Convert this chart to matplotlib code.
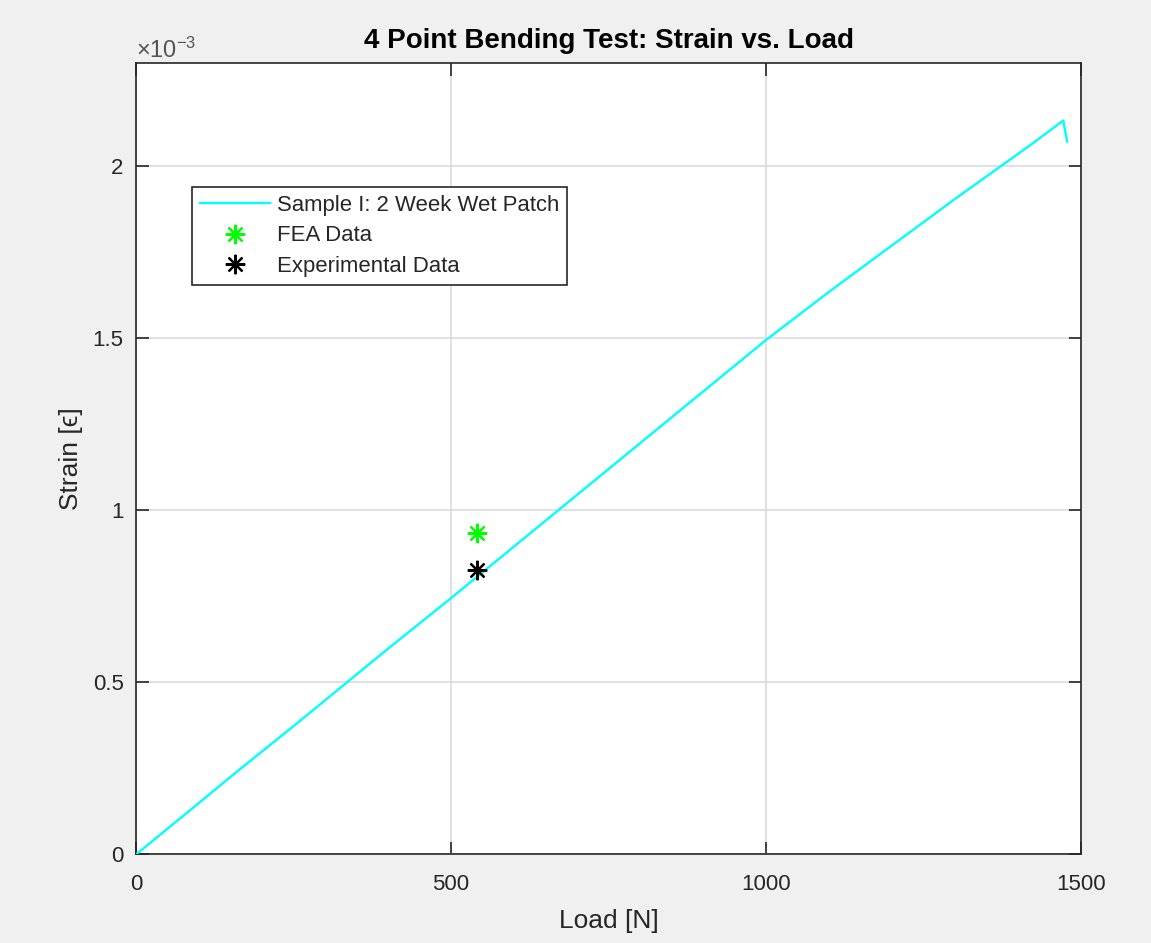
import numpy as np
import matplotlib
matplotlib.use('Agg')
import matplotlib.pyplot as plt
from matplotlib.ticker import FuncFormatter

plt.rcParams['font.family'] = ['Liberation Sans', 'DejaVu Sans']
plt.rcParams['mathtext.fontset'] = 'custom'
plt.rcParams['mathtext.rm'] = 'Liberation Sans'

# load-strain record for sample I (strain in units of 1e-3)
load = [0, 100, 165, 250, 324, 400, 500, 600, 700, 800, 900, 1000,
        1100, 1200, 1300, 1371, 1420, 1472, 1474, 1478]
strain = [0, 0.15, 0.248, 0.373, 0.484, 0.598, 0.745, 0.895, 1.045, 1.195, 1.345, 1.495,
          1.635, 1.770, 1.905, 1.998, 2.062, 2.133, 2.11, 2.072]

fea_load = [541]
fea_strain = [0.933]
exp_load = [541]
exp_strain = [0.826]

dark = '#262626'

fig = plt.figure(figsize=(11.51, 9.43), dpi=100, facecolor='#f0f0f0')
ax = fig.add_axes([0.1182, 0.0939, 0.8210, 0.8393])
ax.set_facecolor('white')

ax.plot(np.array(load), np.array(strain) * 1e-3, color='#00ffff', lw=1.7,
        label='Sample I: 2 Week Wet Patch', zorder=3)
ax.plot(np.array(fea_load), np.array(fea_strain) * 1e-3, ls='none', marker=(8, 2, 0),
        ms=14, mew=1.6, color='#00ff00', label='FEA Data', zorder=4)
ax.plot(np.array(exp_load), np.array(exp_strain) * 1e-3, ls='none', marker=(8, 2, 0),
        ms=14, mew=1.6, color='black', label='Experimental Data', zorder=4)

ax.set_xlim(0, 1500)
ax.set_ylim(0, 2.3e-3)
ax.set_xticks([0, 500, 1000, 1500])
ax.set_yticks([0, 0.5e-3, 1e-3, 1.5e-3, 2e-3])
ax.yaxis.set_major_formatter(FuncFormatter(lambda v, p: '%g' % round(v * 1e3, 3)))

ax.grid(True, color='#dcdcdc', lw=1.2)
ax.set_axisbelow(True)
for s in ax.spines.values():
    s.set_color(dark)
    s.set_linewidth(1.2)
ax.tick_params(direction='in', length=9, width=1.2, color=dark, labelcolor=dark,
               labelsize=16, top=True, right=True)
ax.tick_params(axis='x', pad=14)
ax.tick_params(axis='y', pad=9)

ax.text(0.0, 1.0, r'$\times\mathregular{10^{-3}}$', transform=ax.transAxes,
        fontsize=17, color='#555555', ha='left', va='bottom')

ax.set_title('4 Point Bending Test: Strain vs. Load', fontsize=20, fontweight='bold', pad=11)
ax.set_xlabel('Load [N]', fontsize=19, color=dark, labelpad=10)
ax.set_ylabel('Strain [ϵ]', fontsize=19, color=dark, labelpad=7)

leg = ax.legend(loc='upper left', bbox_to_anchor=(0.059, 0.843), borderaxespad=0,
                fancybox=False, framealpha=1, edgecolor=dark, fontsize=15.9,
                handlelength=3.2, labelspacing=0.42, borderpad=0.36, handletextpad=0.28)
leg.get_frame().set_linewidth(1.2)
for t in leg.get_texts():
    t.set_color(dark)

fig.savefig('out.png', dpi=100, facecolor=fig.get_facecolor())
